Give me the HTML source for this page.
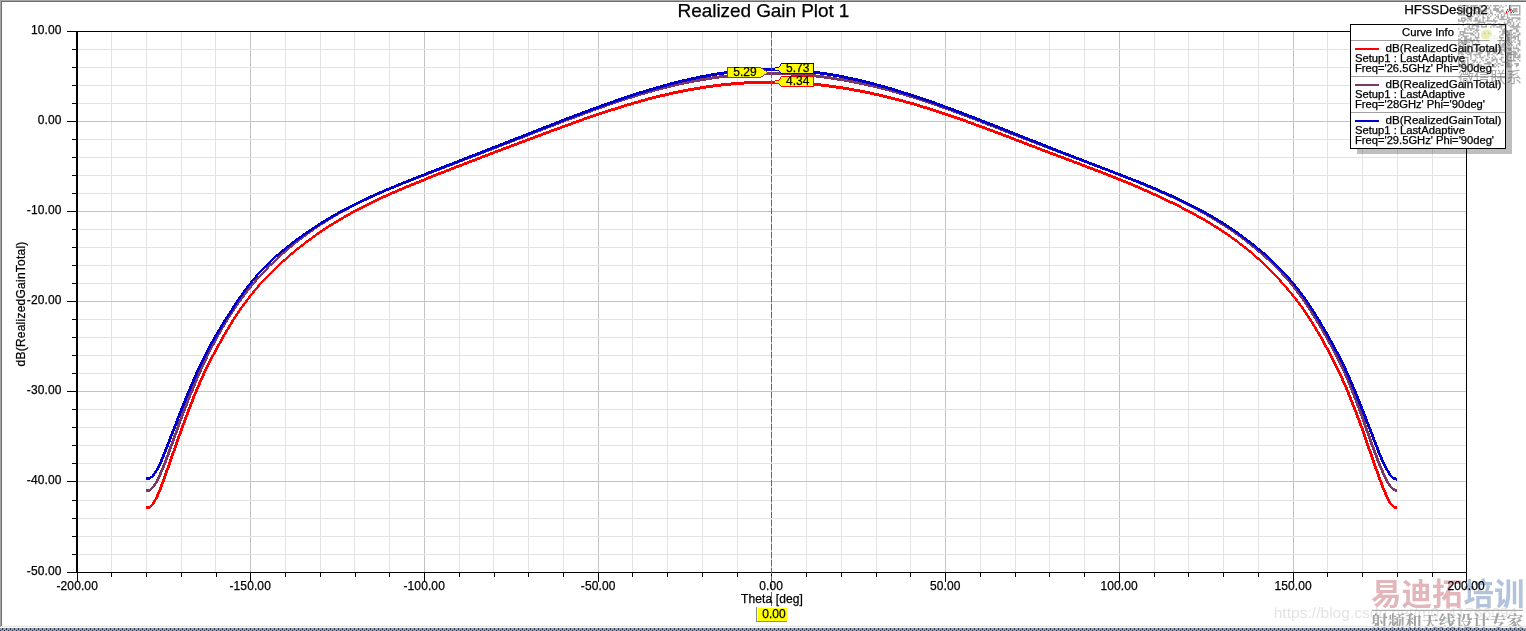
<!DOCTYPE html><html><head><meta charset="utf-8"><title>Realized Gain Plot 1</title>
<style>html,body{margin:0;padding:0;background:#fff;overflow:hidden}svg{display:block;will-change:transform;transform:translateZ(0)}text{font-family:"Liberation Sans",sans-serif;fill:#000;stroke:#000;stroke-width:.25px}</style></head><body>
<svg width="1526" height="631" viewBox="0 0 1526 631">
<defs><pattern id="dots" x="0" y="628" width="4" height="3" patternUnits="userSpaceOnUse"><rect width="4" height="3" fill="#9c9c9c"/><rect x="2" y="0" width="1" height="2" fill="#1f3864"/><rect x="0" y="2" width="1" height="1" fill="#1f3864"/></pattern></defs>
<rect width="1526" height="631" fill="#fff"/>
<g shape-rendering="crispEdges">
<rect x="111" y="32" width="1" height="540" fill="#e3e3e3"/>
<rect x="146" y="32" width="1" height="540" fill="#e3e3e3"/>
<rect x="181" y="32" width="1" height="540" fill="#e3e3e3"/>
<rect x="215" y="32" width="1" height="540" fill="#e3e3e3"/>
<rect x="250" y="32" width="1" height="540" fill="#c3c3c3"/>
<rect x="285" y="32" width="1" height="540" fill="#e3e3e3"/>
<rect x="320" y="32" width="1" height="540" fill="#e3e3e3"/>
<rect x="354" y="32" width="1" height="540" fill="#e3e3e3"/>
<rect x="389" y="32" width="1" height="540" fill="#e3e3e3"/>
<rect x="424" y="32" width="1" height="540" fill="#c3c3c3"/>
<rect x="459" y="32" width="1" height="540" fill="#e3e3e3"/>
<rect x="493" y="32" width="1" height="540" fill="#e3e3e3"/>
<rect x="528" y="32" width="1" height="540" fill="#e3e3e3"/>
<rect x="563" y="32" width="1" height="540" fill="#e3e3e3"/>
<rect x="598" y="32" width="1" height="540" fill="#c3c3c3"/>
<rect x="632" y="32" width="1" height="540" fill="#e3e3e3"/>
<rect x="667" y="32" width="1" height="540" fill="#e3e3e3"/>
<rect x="702" y="32" width="1" height="540" fill="#e3e3e3"/>
<rect x="737" y="32" width="1" height="540" fill="#e3e3e3"/>
<rect x="771" y="32" width="1" height="540" fill="#c3c3c3"/>
<rect x="806" y="32" width="1" height="540" fill="#e3e3e3"/>
<rect x="841" y="32" width="1" height="540" fill="#e3e3e3"/>
<rect x="876" y="32" width="1" height="540" fill="#e3e3e3"/>
<rect x="910" y="32" width="1" height="540" fill="#e3e3e3"/>
<rect x="945" y="32" width="1" height="540" fill="#c3c3c3"/>
<rect x="980" y="32" width="1" height="540" fill="#e3e3e3"/>
<rect x="1015" y="32" width="1" height="540" fill="#e3e3e3"/>
<rect x="1049" y="32" width="1" height="540" fill="#e3e3e3"/>
<rect x="1084" y="32" width="1" height="540" fill="#e3e3e3"/>
<rect x="1119" y="32" width="1" height="540" fill="#c3c3c3"/>
<rect x="1154" y="32" width="1" height="540" fill="#e3e3e3"/>
<rect x="1188" y="32" width="1" height="540" fill="#e3e3e3"/>
<rect x="1223" y="32" width="1" height="540" fill="#e3e3e3"/>
<rect x="1258" y="32" width="1" height="540" fill="#e3e3e3"/>
<rect x="1293" y="32" width="1" height="540" fill="#c3c3c3"/>
<rect x="1327" y="32" width="1" height="540" fill="#e3e3e3"/>
<rect x="1362" y="32" width="1" height="540" fill="#e3e3e3"/>
<rect x="1397" y="32" width="1" height="540" fill="#e3e3e3"/>
<rect x="1432" y="32" width="1" height="540" fill="#e3e3e3"/>
<rect x="78" y="49" width="1388" height="1" fill="#e3e3e3"/>
<rect x="78" y="67" width="1388" height="1" fill="#e3e3e3"/>
<rect x="78" y="85" width="1388" height="1" fill="#e3e3e3"/>
<rect x="78" y="103" width="1388" height="1" fill="#e3e3e3"/>
<rect x="78" y="121" width="1388" height="1" fill="#c3c3c3"/>
<rect x="78" y="139" width="1388" height="1" fill="#e3e3e3"/>
<rect x="78" y="157" width="1388" height="1" fill="#e3e3e3"/>
<rect x="78" y="175" width="1388" height="1" fill="#e3e3e3"/>
<rect x="78" y="193" width="1388" height="1" fill="#e3e3e3"/>
<rect x="78" y="211" width="1388" height="1" fill="#c3c3c3"/>
<rect x="78" y="229" width="1388" height="1" fill="#e3e3e3"/>
<rect x="78" y="247" width="1388" height="1" fill="#e3e3e3"/>
<rect x="78" y="265" width="1388" height="1" fill="#e3e3e3"/>
<rect x="78" y="283" width="1388" height="1" fill="#e3e3e3"/>
<rect x="78" y="301" width="1388" height="1" fill="#c3c3c3"/>
<rect x="78" y="319" width="1388" height="1" fill="#e3e3e3"/>
<rect x="78" y="337" width="1388" height="1" fill="#e3e3e3"/>
<rect x="78" y="355" width="1388" height="1" fill="#e3e3e3"/>
<rect x="78" y="373" width="1388" height="1" fill="#e3e3e3"/>
<rect x="78" y="391" width="1388" height="1" fill="#c3c3c3"/>
<rect x="78" y="409" width="1388" height="1" fill="#e3e3e3"/>
<rect x="78" y="427" width="1388" height="1" fill="#e3e3e3"/>
<rect x="78" y="445" width="1388" height="1" fill="#e3e3e3"/>
<rect x="78" y="463" width="1388" height="1" fill="#e3e3e3"/>
<rect x="78" y="481" width="1388" height="1" fill="#c3c3c3"/>
<rect x="78" y="500" width="1388" height="1" fill="#e3e3e3"/>
<rect x="78" y="518" width="1388" height="1" fill="#e3e3e3"/>
<rect x="78" y="536" width="1388" height="1" fill="#e3e3e3"/>
<rect x="78" y="554" width="1388" height="1" fill="#e3e3e3"/>
</g>
<polygon points="146.1,506.4 149.6,506.0 151.5,503.9 155.0,497.8 158.5,489.8 162.0,480.6 165.4,470.8 168.9,460.9 172.4,451.0 175.9,441.1 179.3,431.4 182.8,421.8 186.3,412.5 189.8,403.4 193.2,394.7 196.7,386.4 200.2,378.4 203.7,371.0 207.1,363.9 210.6,357.2 214.1,350.6 217.6,344.2 221.0,338.0 224.5,332.0 228.0,326.1 231.5,320.5 234.9,315.2 238.4,310.0 241.9,305.1 245.4,300.4 248.8,295.9 252.3,291.6 255.8,287.4 259.3,283.5 262.7,279.7 266.2,276.0 271.2,271.0 274.7,267.6 278.1,264.3 281.6,261.1 285.1,258.0 288.6,254.9 292.0,252.0 295.5,249.1 299.0,246.3 302.5,243.6 305.9,240.9 309.4,238.3 312.9,235.8 316.3,233.3 319.8,230.9 323.3,228.5 326.8,226.2 330.2,224.0 333.7,221.8 337.2,219.7 340.7,217.6 344.1,215.6 347.6,213.6 351.1,211.7 354.6,209.8 358.0,207.9 361.5,206.1 365.0,204.3 368.5,202.6 371.9,200.9 375.4,199.2 378.9,197.6 382.4,196.0 385.8,194.4 389.3,192.8 392.8,191.3 396.3,189.8 399.7,188.3 403.2,186.8 406.7,185.4 410.2,183.9 413.6,182.5 417.1,181.1 420.6,179.7 424.1,178.3 427.5,176.9 431.0,175.5 434.5,174.1 438.0,172.7 441.4,171.4 444.9,170.0 448.4,168.6 451.9,167.3 455.3,165.9 458.8,164.6 462.3,163.2 465.7,161.9 469.2,160.5 472.7,159.2 476.2,157.9 479.6,156.5 483.1,155.2 486.6,153.9 490.1,152.5 493.5,151.2 497.0,149.9 500.5,148.6 504.0,147.3 507.4,146.0 510.9,144.7 514.4,143.4 517.9,142.0 521.3,140.7 524.8,139.4 528.3,138.1 531.8,136.8 535.2,135.5 538.7,134.2 542.2,132.9 545.7,131.6 549.1,130.3 552.6,129.0 556.1,127.8 559.6,126.5 563.0,125.2 566.5,124.0 570.0,122.7 573.5,121.4 576.9,120.2 580.4,119.0 583.9,117.7 587.4,116.5 590.8,115.3 594.3,114.1 597.8,113.0 601.3,111.8 604.7,110.6 608.2,109.5 611.7,108.4 615.2,107.3 618.6,106.2 622.1,105.1 625.6,104.0 629.0,103.0 632.5,102.0 636.0,101.0 639.5,100.0 642.9,99.0 646.4,98.1 649.9,97.1 653.4,96.2 656.8,95.3 660.3,94.5 663.8,93.7 667.3,92.8 670.7,92.1 674.2,91.3 677.7,90.6 681.2,89.9 684.6,89.2 688.1,88.5 691.6,87.9 695.1,87.3 698.5,86.7 702.0,86.1 705.5,85.6 709.0,85.1 712.4,84.6 715.9,84.2 719.4,83.7 722.9,83.3 726.3,83.0 729.8,82.6 733.3,82.3 736.8,82.0 740.2,81.8 743.7,81.5 747.2,81.3 750.7,81.1 754.1,81.0 757.6,80.9 761.1,80.8 764.6,80.7 768.0,80.7 771.5,80.6 775.0,80.7 778.4,80.7 781.9,80.8 785.4,80.9 788.9,81.0 792.3,81.2 795.8,81.4 799.3,81.6 802.8,81.8 806.2,82.1 809.7,82.4 813.2,82.7 816.7,83.1 820.1,83.4 823.6,83.8 827.1,84.3 830.6,84.7 834.0,85.2 837.5,85.7 841.0,86.2 844.5,86.8 847.9,87.3 851.4,87.9 854.9,88.6 858.4,89.2 861.8,89.9 865.3,90.6 868.8,91.3 872.3,92.0 875.7,92.8 879.2,93.6 882.7,94.4 886.2,95.2 889.6,96.1 893.1,96.9 896.6,97.8 900.1,98.8 903.5,99.7 907.0,100.7 910.5,101.6 914.0,102.6 917.4,103.7 920.9,104.7 924.4,105.8 927.9,106.8 931.3,107.9 934.8,109.0 938.3,110.2 941.7,111.3 945.2,112.5 948.7,113.7 952.2,114.8 955.6,116.0 959.1,117.3 962.6,118.5 966.1,119.7 969.5,121.0 973.0,122.2 976.5,123.5 980.0,124.8 983.4,126.0 986.9,127.3 990.4,128.6 993.9,129.9 997.3,131.3 1000.8,132.6 1004.3,133.9 1007.8,135.2 1011.2,136.5 1014.7,137.9 1018.2,139.2 1021.7,140.5 1025.1,141.9 1028.6,143.2 1032.1,144.5 1035.6,145.9 1039.0,147.2 1042.5,148.5 1046.0,149.8 1049.5,151.2 1052.9,152.5 1056.4,153.8 1059.9,155.1 1063.4,156.4 1066.8,157.7 1070.3,159.0 1073.8,160.3 1077.3,161.6 1080.7,162.9 1084.2,164.3 1087.7,165.6 1091.1,166.9 1094.6,168.2 1098.1,169.6 1101.6,170.9 1105.0,172.3 1108.5,173.6 1112.0,175.0 1115.5,176.4 1118.9,177.8 1122.4,179.2 1125.9,180.6 1129.4,182.0 1132.8,183.5 1136.3,185.0 1139.8,186.4 1143.3,188.0 1146.7,189.5 1150.2,191.0 1153.7,192.6 1157.2,194.2 1160.6,195.8 1164.1,197.4 1167.6,199.1 1171.1,200.8 1174.5,202.5 1178.0,204.2 1181.5,206.0 1185.0,207.8 1188.4,209.6 1191.9,211.4 1195.4,213.3 1198.9,215.3 1202.3,217.2 1205.8,219.2 1209.3,221.3 1212.8,223.4 1216.2,225.6 1219.7,227.8 1223.2,230.1 1226.7,232.4 1230.1,234.8 1233.6,237.3 1237.1,239.9 1240.5,242.5 1244.0,245.2 1247.5,248.0 1251.0,250.9 1254.4,253.9 1257.9,256.9 1261.4,260.1 1264.9,263.4 1268.3,266.8 1273.3,271.7 1276.8,275.3 1280.3,279.0 1283.7,282.9 1287.2,286.8 1290.7,290.9 1294.2,295.1 1297.6,299.6 1301.1,304.1 1304.6,308.9 1308.1,314.0 1311.5,319.2 1315.0,324.7 1318.5,330.5 1322.0,336.5 1325.4,342.7 1328.9,349.1 1332.4,355.6 1335.9,362.4 1339.3,369.4 1342.8,376.8 1346.3,384.6 1349.8,392.8 1353.2,401.4 1356.7,410.3 1360.2,419.4 1363.7,428.9 1367.1,438.7 1370.6,448.8 1374.1,458.9 1377.6,468.9 1381.0,478.5 1384.5,487.6 1388.0,495.8 1391.5,502.5 1393.4,505.3 1396.9,506.6 1396.9,509.6 1393.4,508.3 1388.5,502.5 1385.0,495.8 1381.5,487.6 1378.0,478.5 1374.6,468.9 1371.1,458.9 1367.6,448.8 1364.1,438.7 1360.7,428.9 1357.2,419.4 1353.7,410.3 1350.2,401.4 1346.8,392.8 1343.3,384.6 1339.8,376.8 1336.3,369.4 1332.9,362.4 1329.4,355.6 1325.9,349.1 1322.4,342.7 1319.0,336.5 1315.5,330.5 1312.0,324.7 1308.5,319.2 1305.1,314.0 1301.6,308.9 1298.1,304.1 1294.6,299.6 1291.2,295.1 1287.7,290.9 1284.2,286.8 1280.7,282.9 1277.3,279.0 1273.8,275.3 1270.3,271.7 1268.3,269.8 1264.9,266.4 1261.4,263.1 1257.9,259.9 1254.4,256.9 1251.0,253.9 1247.5,251.0 1244.0,248.2 1240.5,245.5 1237.1,242.9 1233.6,240.3 1230.1,237.8 1226.7,235.4 1223.2,233.1 1219.7,230.8 1216.2,228.6 1212.8,226.4 1209.3,224.3 1205.8,222.2 1202.3,220.2 1198.9,218.3 1195.4,216.3 1191.9,214.4 1188.4,212.6 1185.0,210.8 1181.5,209.0 1178.0,207.2 1174.5,205.5 1171.1,203.8 1167.6,202.1 1164.1,200.4 1160.6,198.8 1157.2,197.2 1153.7,195.6 1150.2,194.0 1146.7,192.5 1143.3,191.0 1139.8,189.4 1136.3,188.0 1132.8,186.5 1129.4,185.0 1125.9,183.6 1122.4,182.2 1118.9,180.8 1115.5,179.4 1112.0,178.0 1108.5,176.6 1105.0,175.3 1101.6,173.9 1098.1,172.6 1094.6,171.2 1091.1,169.9 1087.7,168.6 1084.2,167.3 1080.7,165.9 1077.3,164.6 1073.8,163.3 1070.3,162.0 1066.8,160.7 1063.4,159.4 1059.9,158.1 1056.4,156.8 1052.9,155.5 1049.5,154.2 1046.0,152.8 1042.5,151.5 1039.0,150.2 1035.6,148.9 1032.1,147.5 1028.6,146.2 1025.1,144.9 1021.7,143.5 1018.2,142.2 1014.7,140.9 1011.2,139.5 1007.8,138.2 1004.3,136.9 1000.8,135.6 997.3,134.3 993.9,132.9 990.4,131.6 986.9,130.3 983.4,129.0 980.0,127.8 976.5,126.5 973.0,125.2 969.5,124.0 966.1,122.7 962.6,121.5 959.1,120.3 955.6,119.0 952.2,117.8 948.7,116.7 945.2,115.5 941.7,114.3 938.3,113.2 934.8,112.0 931.3,110.9 927.9,109.8 924.4,108.8 920.9,107.7 917.4,106.7 914.0,105.6 910.5,104.6 907.0,103.7 903.5,102.7 900.1,101.8 896.6,100.8 893.1,99.9 889.6,99.1 886.2,98.2 882.7,97.4 879.2,96.6 875.7,95.8 872.3,95.0 868.8,94.3 865.3,93.6 861.8,92.9 858.4,92.2 854.9,91.6 851.4,90.9 847.9,90.3 844.5,89.8 841.0,89.2 837.5,88.7 834.0,88.2 830.6,87.7 827.1,87.3 823.6,86.8 820.1,86.4 816.7,86.1 813.2,85.7 809.7,85.4 806.2,85.1 802.8,84.8 799.3,84.6 795.8,84.4 792.3,84.2 788.9,84.0 785.4,83.9 781.9,83.8 778.4,83.7 775.0,83.7 771.5,83.6 768.0,83.7 764.6,83.7 761.1,83.8 757.6,83.9 754.1,84.0 750.7,84.1 747.2,84.3 743.7,84.5 740.2,84.8 736.8,85.0 733.3,85.3 729.8,85.6 726.3,86.0 722.9,86.3 719.4,86.7 715.9,87.2 712.4,87.6 709.0,88.1 705.5,88.6 702.0,89.1 698.5,89.7 695.1,90.3 691.6,90.9 688.1,91.5 684.6,92.2 681.2,92.9 677.7,93.6 674.2,94.3 670.7,95.1 667.3,95.8 663.8,96.7 660.3,97.5 656.8,98.3 653.4,99.2 649.9,100.1 646.4,101.1 642.9,102.0 639.5,103.0 636.0,104.0 632.5,105.0 629.0,106.0 625.6,107.0 622.1,108.1 618.6,109.2 615.2,110.3 611.7,111.4 608.2,112.5 604.7,113.6 601.3,114.8 597.8,116.0 594.3,117.1 590.8,118.3 587.4,119.5 583.9,120.7 580.4,122.0 576.9,123.2 573.5,124.4 570.0,125.7 566.5,127.0 563.0,128.2 559.6,129.5 556.1,130.8 552.6,132.0 549.1,133.3 545.7,134.6 542.2,135.9 538.7,137.2 535.2,138.5 531.8,139.8 528.3,141.1 524.8,142.4 521.3,143.7 517.9,145.0 514.4,146.4 510.9,147.7 507.4,149.0 504.0,150.3 500.5,151.6 497.0,152.9 493.5,154.2 490.1,155.5 486.6,156.9 483.1,158.2 479.6,159.5 476.2,160.9 472.7,162.2 469.2,163.5 465.7,164.9 462.3,166.2 458.8,167.6 455.3,168.9 451.9,170.3 448.4,171.6 444.9,173.0 441.4,174.4 438.0,175.7 434.5,177.1 431.0,178.5 427.5,179.9 424.1,181.3 420.6,182.7 417.1,184.1 413.6,185.5 410.2,186.9 406.7,188.4 403.2,189.8 399.7,191.3 396.3,192.8 392.8,194.3 389.3,195.8 385.8,197.4 382.4,199.0 378.9,200.6 375.4,202.2 371.9,203.9 368.5,205.6 365.0,207.3 361.5,209.1 358.0,210.9 354.6,212.8 351.1,214.7 347.6,216.6 344.1,218.6 340.7,220.6 337.2,222.7 333.7,224.8 330.2,227.0 326.8,229.2 323.3,231.5 319.8,233.9 316.3,236.3 312.9,238.8 309.4,241.3 305.9,243.9 302.5,246.6 299.0,249.3 295.5,252.1 292.0,255.0 288.6,257.9 285.1,261.0 281.6,264.1 278.1,267.3 274.7,270.6 271.2,274.0 269.2,276.0 265.7,279.7 262.3,283.5 258.8,287.4 255.3,291.6 251.8,295.9 248.4,300.4 244.9,305.1 241.4,310.0 237.9,315.2 234.5,320.5 231.0,326.1 227.5,332.0 224.0,338.0 220.6,344.2 217.1,350.6 213.6,357.2 210.1,363.9 206.7,371.0 203.2,378.4 199.7,386.4 196.2,394.7 192.8,403.4 189.3,412.5 185.8,421.8 182.3,431.4 178.9,441.1 175.4,451.0 171.9,460.9 168.4,470.8 165.0,480.6 161.5,489.8 158.0,497.8 154.5,503.9 149.6,509.0 146.1,509.4" fill="#ff0000" shape-rendering="crispEdges"/>
<polygon points="146.1,489.2 149.6,488.7 151.5,487.1 155.0,481.8 158.5,474.8 162.0,466.6 165.4,457.5 168.9,448.1 172.4,438.4 175.9,428.7 179.3,419.2 182.8,410.0 186.3,401.0 189.8,392.3 193.2,383.8 196.7,375.7 200.2,367.8 203.7,360.3 207.1,353.1 210.6,346.2 214.1,339.7 217.6,333.4 221.0,327.4 224.5,321.6 228.0,316.1 231.5,310.8 234.9,305.7 238.4,300.8 241.9,296.1 245.4,291.6 248.8,287.2 252.3,283.0 255.8,279.0 259.3,275.1 262.7,271.4 266.2,267.8 271.2,262.8 274.7,259.5 278.1,256.2 281.6,253.0 285.1,250.0 288.6,247.0 292.0,244.1 295.5,241.3 299.0,238.5 302.5,235.9 305.9,233.3 309.4,230.8 312.9,228.3 316.3,225.9 319.8,223.6 323.3,221.3 326.8,219.1 330.2,217.0 333.7,214.9 337.2,212.8 340.7,210.8 344.1,208.9 347.6,207.0 351.1,205.2 354.6,203.4 358.0,201.6 361.5,199.9 365.0,198.2 368.5,196.6 371.9,195.0 375.4,193.4 378.9,191.8 382.4,190.3 385.8,188.8 389.3,187.3 392.8,185.9 396.3,184.5 399.7,183.0 403.2,181.6 406.7,180.3 410.2,178.9 413.6,177.5 417.1,176.2 420.6,174.8 424.1,173.5 427.5,172.1 431.0,170.8 434.5,169.4 438.0,168.1 441.4,166.8 444.9,165.4 448.4,164.1 451.9,162.8 455.3,161.4 458.8,160.1 462.3,158.7 465.7,157.4 469.2,156.1 472.7,154.7 476.2,153.4 479.6,152.1 483.1,150.7 486.6,149.4 490.1,148.1 493.5,146.7 497.0,145.4 500.5,144.1 504.0,142.7 507.4,141.4 510.9,140.0 514.4,138.7 517.9,137.3 521.3,136.0 524.8,134.7 528.3,133.3 531.8,132.0 535.2,130.6 538.7,129.3 542.2,127.9 545.7,126.6 549.1,125.2 552.6,123.9 556.1,122.5 559.6,121.2 563.0,119.9 566.5,118.5 570.0,117.2 573.5,115.9 576.9,114.6 580.4,113.3 583.9,112.0 587.4,110.7 590.8,109.4 594.3,108.2 597.8,106.9 601.3,105.7 604.7,104.5 608.2,103.2 611.7,102.0 615.2,100.9 618.6,99.7 622.1,98.5 625.6,97.4 629.0,96.3 632.5,95.2 636.0,94.1 639.5,93.1 642.9,92.0 646.4,91.0 649.9,90.0 653.4,89.0 656.8,88.1 660.3,87.2 663.8,86.3 667.3,85.4 670.7,84.5 674.2,83.7 677.7,82.9 681.2,82.1 684.6,81.4 688.1,80.7 691.6,80.0 695.1,79.3 698.5,78.7 702.0,78.1 705.5,77.5 709.0,76.9 712.4,76.4 715.9,75.9 719.4,75.5 722.9,75.0 726.3,74.6 729.8,74.2 733.3,73.9 736.8,73.6 740.2,73.3 743.7,73.0 747.2,72.8 750.7,72.6 754.1,72.4 757.6,72.3 761.1,72.1 764.6,72.1 768.0,72.0 771.5,72.0 775.0,72.0 778.4,72.1 781.9,72.2 785.4,72.3 788.9,72.4 792.3,72.6 795.8,72.8 799.3,73.0 802.8,73.3 806.2,73.6 809.7,73.9 813.2,74.2 816.7,74.6 820.1,75.0 823.6,75.4 827.1,75.9 830.6,76.4 834.0,76.9 837.5,77.5 841.0,78.0 844.5,78.6 847.9,79.3 851.4,79.9 854.9,80.6 858.4,81.3 861.8,82.0 865.3,82.8 868.8,83.6 872.3,84.4 875.7,85.2 879.2,86.1 882.7,86.9 886.2,87.8 889.6,88.8 893.1,89.7 896.6,90.7 900.1,91.7 903.5,92.7 907.0,93.8 910.5,94.8 914.0,95.9 917.4,97.0 920.9,98.1 924.4,99.3 927.9,100.5 931.3,101.6 934.8,102.8 938.3,104.1 941.7,105.3 945.2,106.5 948.7,107.8 952.2,109.1 955.6,110.4 959.1,111.7 962.6,113.0 966.1,114.3 969.5,115.6 973.0,116.9 976.5,118.3 980.0,119.6 983.4,121.0 986.9,122.3 990.4,123.7 993.9,125.0 997.3,126.4 1000.8,127.7 1004.3,129.1 1007.8,130.4 1011.2,131.8 1014.7,133.1 1018.2,134.5 1021.7,135.8 1025.1,137.2 1028.6,138.5 1032.1,139.8 1035.6,141.2 1039.0,142.5 1042.5,143.8 1046.0,145.2 1049.5,146.5 1052.9,147.8 1056.4,149.1 1059.9,150.4 1063.4,151.7 1066.8,153.1 1070.3,154.4 1073.8,155.7 1077.3,157.0 1080.7,158.3 1084.2,159.6 1087.7,160.9 1091.1,162.2 1094.6,163.6 1098.1,164.9 1101.6,166.2 1105.0,167.5 1108.5,168.9 1112.0,170.2 1115.5,171.6 1118.9,172.9 1122.4,174.3 1125.9,175.7 1129.4,177.0 1132.8,178.4 1136.3,179.8 1139.8,181.3 1143.3,182.7 1146.7,184.2 1150.2,185.6 1153.7,187.1 1157.2,188.6 1160.6,190.1 1164.1,191.7 1167.6,193.3 1171.1,194.8 1174.5,196.5 1178.0,198.1 1181.5,199.8 1185.0,201.5 1188.4,203.3 1191.9,205.1 1195.4,206.9 1198.9,208.8 1202.3,210.7 1205.8,212.6 1209.3,214.6 1212.8,216.7 1216.2,218.8 1219.7,221.0 1223.2,223.2 1226.7,225.5 1230.1,227.8 1233.6,230.2 1237.1,232.7 1240.5,235.2 1244.0,237.8 1247.5,240.5 1251.0,243.3 1254.4,246.1 1257.9,249.0 1261.4,252.0 1264.9,255.0 1268.3,258.2 1271.8,261.5 1276.8,266.4 1280.3,269.9 1283.7,273.6 1287.2,277.5 1290.7,281.5 1294.2,285.7 1297.6,290.1 1301.1,294.7 1304.6,299.5 1308.1,304.6 1311.5,309.9 1315.0,315.3 1318.5,321.0 1322.0,326.8 1325.4,332.8 1328.9,338.9 1332.4,345.2 1335.9,351.6 1339.3,358.4 1342.8,365.5 1346.3,373.0 1349.8,381.0 1353.2,389.4 1356.7,398.3 1360.2,407.4 1363.7,416.9 1367.1,426.6 1370.6,436.5 1374.1,446.2 1377.6,455.6 1381.0,464.5 1384.5,472.8 1388.0,480.1 1391.5,485.9 1393.4,488.1 1396.9,489.3 1396.9,492.3 1393.4,491.1 1388.5,485.9 1385.0,480.1 1381.5,472.8 1378.0,464.5 1374.6,455.6 1371.1,446.2 1367.6,436.5 1364.1,426.6 1360.7,416.9 1357.2,407.4 1353.7,398.3 1350.2,389.4 1346.8,381.0 1343.3,373.0 1339.8,365.5 1336.3,358.4 1332.9,351.6 1329.4,345.2 1325.9,338.9 1322.4,332.8 1319.0,326.8 1315.5,321.0 1312.0,315.3 1308.5,309.9 1305.1,304.6 1301.6,299.5 1298.1,294.7 1294.6,290.1 1291.2,285.7 1287.7,281.5 1284.2,277.5 1280.7,273.6 1277.3,269.9 1273.8,266.4 1271.8,264.5 1268.3,261.2 1264.9,258.0 1261.4,255.0 1257.9,252.0 1254.4,249.1 1251.0,246.3 1247.5,243.5 1244.0,240.8 1240.5,238.2 1237.1,235.7 1233.6,233.2 1230.1,230.8 1226.7,228.5 1223.2,226.2 1219.7,224.0 1216.2,221.8 1212.8,219.7 1209.3,217.6 1205.8,215.6 1202.3,213.7 1198.9,211.8 1195.4,209.9 1191.9,208.1 1188.4,206.3 1185.0,204.5 1181.5,202.8 1178.0,201.1 1174.5,199.5 1171.1,197.8 1167.6,196.3 1164.1,194.7 1160.6,193.1 1157.2,191.6 1153.7,190.1 1150.2,188.6 1146.7,187.2 1143.3,185.7 1139.8,184.3 1136.3,182.8 1132.8,181.4 1129.4,180.0 1125.9,178.7 1122.4,177.3 1118.9,175.9 1115.5,174.6 1112.0,173.2 1108.5,171.9 1105.0,170.5 1101.6,169.2 1098.1,167.9 1094.6,166.6 1091.1,165.2 1087.7,163.9 1084.2,162.6 1080.7,161.3 1077.3,160.0 1073.8,158.7 1070.3,157.4 1066.8,156.1 1063.4,154.7 1059.9,153.4 1056.4,152.1 1052.9,150.8 1049.5,149.5 1046.0,148.2 1042.5,146.8 1039.0,145.5 1035.6,144.2 1032.1,142.8 1028.6,141.5 1025.1,140.2 1021.7,138.8 1018.2,137.5 1014.7,136.1 1011.2,134.8 1007.8,133.4 1004.3,132.1 1000.8,130.7 997.3,129.4 993.9,128.0 990.4,126.7 986.9,125.3 983.4,124.0 980.0,122.6 976.5,121.3 973.0,119.9 969.5,118.6 966.1,117.3 962.6,116.0 959.1,114.7 955.6,113.4 952.2,112.1 948.7,110.8 945.2,109.5 941.7,108.3 938.3,107.1 934.8,105.8 931.3,104.6 927.9,103.5 924.4,102.3 920.9,101.1 917.4,100.0 914.0,98.9 910.5,97.8 907.0,96.8 903.5,95.7 900.1,94.7 896.6,93.7 893.1,92.7 889.6,91.8 886.2,90.8 882.7,89.9 879.2,89.1 875.7,88.2 872.3,87.4 868.8,86.6 865.3,85.8 861.8,85.0 858.4,84.3 854.9,83.6 851.4,82.9 847.9,82.3 844.5,81.6 841.0,81.0 837.5,80.5 834.0,79.9 830.6,79.4 827.1,78.9 823.6,78.4 820.1,78.0 816.7,77.6 813.2,77.2 809.7,76.9 806.2,76.6 802.8,76.3 799.3,76.0 795.8,75.8 792.3,75.6 788.9,75.4 785.4,75.3 781.9,75.2 778.4,75.1 775.0,75.0 771.5,75.0 768.0,75.0 764.6,75.1 761.1,75.1 757.6,75.3 754.1,75.4 750.7,75.6 747.2,75.8 743.7,76.0 740.2,76.3 736.8,76.6 733.3,76.9 729.8,77.2 726.3,77.6 722.9,78.0 719.4,78.5 715.9,78.9 712.4,79.4 709.0,79.9 705.5,80.5 702.0,81.1 698.5,81.7 695.1,82.3 691.6,83.0 688.1,83.7 684.6,84.4 681.2,85.1 677.7,85.9 674.2,86.7 670.7,87.5 667.3,88.4 663.8,89.3 660.3,90.2 656.8,91.1 653.4,92.0 649.9,93.0 646.4,94.0 642.9,95.0 639.5,96.1 636.0,97.1 632.5,98.2 629.0,99.3 625.6,100.4 622.1,101.5 618.6,102.7 615.2,103.9 611.7,105.0 608.2,106.2 604.7,107.5 601.3,108.7 597.8,109.9 594.3,111.2 590.8,112.4 587.4,113.7 583.9,115.0 580.4,116.3 576.9,117.6 573.5,118.9 570.0,120.2 566.5,121.5 563.0,122.9 559.6,124.2 556.1,125.5 552.6,126.9 549.1,128.2 545.7,129.6 542.2,130.9 538.7,132.3 535.2,133.6 531.8,135.0 528.3,136.3 524.8,137.7 521.3,139.0 517.9,140.3 514.4,141.7 510.9,143.0 507.4,144.4 504.0,145.7 500.5,147.1 497.0,148.4 493.5,149.7 490.1,151.1 486.6,152.4 483.1,153.7 479.6,155.1 476.2,156.4 472.7,157.7 469.2,159.1 465.7,160.4 462.3,161.7 458.8,163.1 455.3,164.4 451.9,165.8 448.4,167.1 444.9,168.4 441.4,169.8 438.0,171.1 434.5,172.4 431.0,173.8 427.5,175.1 424.1,176.5 420.6,177.8 417.1,179.2 413.6,180.5 410.2,181.9 406.7,183.3 403.2,184.6 399.7,186.0 396.3,187.5 392.8,188.9 389.3,190.3 385.8,191.8 382.4,193.3 378.9,194.8 375.4,196.4 371.9,198.0 368.5,199.6 365.0,201.2 361.5,202.9 358.0,204.6 354.6,206.4 351.1,208.2 347.6,210.0 344.1,211.9 340.7,213.8 337.2,215.8 333.7,217.9 330.2,220.0 326.8,222.1 323.3,224.3 319.8,226.6 316.3,228.9 312.9,231.3 309.4,233.8 305.9,236.3 302.5,238.9 299.0,241.5 295.5,244.3 292.0,247.1 288.6,250.0 285.1,253.0 281.6,256.0 278.1,259.2 274.7,262.5 271.2,265.8 269.2,267.8 265.7,271.4 262.3,275.1 258.8,279.0 255.3,283.0 251.8,287.2 248.4,291.6 244.9,296.1 241.4,300.8 237.9,305.7 234.5,310.8 231.0,316.1 227.5,321.6 224.0,327.4 220.6,333.4 217.1,339.7 213.6,346.2 210.1,353.1 206.7,360.3 203.2,367.8 199.7,375.7 196.2,383.8 192.8,392.3 189.3,401.0 185.8,410.0 182.3,419.2 178.9,428.7 175.4,438.4 171.9,448.1 168.4,457.5 165.0,466.6 161.5,474.8 158.0,481.8 154.5,487.1 149.6,491.7 146.1,492.2" fill="#7b3767" shape-rendering="crispEdges"/>
<polygon points="146.1,477.5 149.6,477.2 151.5,475.7 155.0,470.6 158.5,463.8 162.0,455.8 165.4,447.1 168.9,438.1 172.4,429.0 175.9,420.0 179.3,411.1 182.8,402.4 186.3,393.9 189.8,385.6 193.2,377.6 196.7,369.8 200.2,362.4 203.7,355.3 207.1,348.6 210.6,342.2 214.1,336.1 217.6,330.2 221.0,324.4 224.5,318.9 228.0,313.4 231.5,308.0 234.9,302.7 238.4,297.6 241.9,292.6 245.4,287.9 248.8,283.4 252.3,279.1 255.8,275.0 259.3,271.2 262.7,267.5 267.7,262.6 271.2,259.2 274.7,256.1 278.1,253.0 281.6,250.1 285.1,247.3 288.6,244.5 292.0,241.8 295.5,239.2 299.0,236.6 302.5,234.1 305.9,231.7 309.4,229.3 312.9,227.0 316.3,224.7 319.8,222.5 323.3,220.3 326.8,218.2 330.2,216.2 333.7,214.2 337.2,212.2 340.7,210.3 344.1,208.4 347.6,206.6 351.1,204.8 354.6,203.1 358.0,201.4 361.5,199.7 365.0,198.0 368.5,196.4 371.9,194.8 375.4,193.3 378.9,191.7 382.4,190.2 385.8,188.7 389.3,187.3 392.8,185.8 396.3,184.4 399.7,182.9 403.2,181.5 406.7,180.1 410.2,178.8 413.6,177.4 417.1,176.0 420.6,174.6 424.1,173.3 427.5,171.9 431.0,170.5 434.5,169.2 438.0,167.8 441.4,166.5 444.9,165.1 448.4,163.7 451.9,162.4 455.3,161.0 458.8,159.7 462.3,158.3 465.7,156.9 469.2,155.6 472.7,154.2 476.2,152.9 479.6,151.5 483.1,150.2 486.6,148.8 490.1,147.4 493.5,146.1 497.0,144.7 500.5,143.4 504.0,142.0 507.4,140.6 510.9,139.3 514.4,137.9 517.9,136.6 521.3,135.2 524.8,133.8 528.3,132.5 531.8,131.1 535.2,129.7 538.7,128.4 542.2,127.0 545.7,125.6 549.1,124.3 552.6,122.9 556.1,121.6 559.6,120.2 563.0,118.9 566.5,117.5 570.0,116.2 573.5,114.9 576.9,113.5 580.4,112.2 583.9,110.9 587.4,109.6 590.8,108.3 594.3,107.0 597.8,105.8 601.3,104.5 604.7,103.3 608.2,102.0 611.7,100.8 615.2,99.6 618.6,98.4 622.1,97.2 625.6,96.0 629.0,94.9 632.5,93.7 636.0,92.6 639.5,91.5 642.9,90.4 646.4,89.4 649.9,88.3 653.4,87.3 656.8,86.3 660.3,85.3 663.8,84.3 667.3,83.4 670.7,82.4 674.2,81.5 677.7,80.7 681.2,79.8 684.6,79.0 688.1,78.2 691.6,77.4 695.1,76.7 698.5,75.9 702.0,75.2 705.5,74.6 709.0,73.9 712.4,73.3 715.9,72.7 719.4,72.2 722.9,71.6 726.3,71.2 729.8,70.7 733.3,70.3 736.8,69.9 740.2,69.5 743.7,69.2 747.2,68.9 750.7,68.7 754.1,68.5 757.6,68.3 761.1,68.1 764.6,68.0 768.0,68.0 771.5,67.9 775.0,67.9 778.4,68.0 781.9,68.1 785.4,68.2 788.9,68.4 792.3,68.6 795.8,68.8 799.3,69.1 802.8,69.4 806.2,69.8 809.7,70.1 813.2,70.5 816.7,71.0 820.1,71.5 823.6,72.0 827.1,72.5 830.6,73.1 834.0,73.7 837.5,74.3 841.0,75.0 844.5,75.7 847.9,76.4 851.4,77.1 854.9,77.9 858.4,78.7 861.8,79.5 865.3,80.4 868.8,81.2 872.3,82.1 875.7,83.0 879.2,84.0 882.7,84.9 886.2,85.9 889.6,86.9 893.1,88.0 896.6,89.0 900.1,90.1 903.5,91.2 907.0,92.3 910.5,93.4 914.0,94.5 917.4,95.7 920.9,96.8 924.4,98.0 927.9,99.2 931.3,100.4 934.8,101.6 938.3,102.9 941.7,104.1 945.2,105.4 948.7,106.7 952.2,108.0 955.6,109.3 959.1,110.6 962.6,111.9 966.1,113.2 969.5,114.5 973.0,115.9 976.5,117.2 980.0,118.6 983.4,119.9 986.9,121.3 990.4,122.6 993.9,124.0 997.3,125.4 1000.8,126.8 1004.3,128.1 1007.8,129.5 1011.2,130.9 1014.7,132.3 1018.2,133.6 1021.7,135.0 1025.1,136.4 1028.6,137.8 1032.1,139.2 1035.6,140.5 1039.0,141.9 1042.5,143.3 1046.0,144.6 1049.5,146.0 1052.9,147.4 1056.4,148.7 1059.9,150.1 1063.4,151.5 1066.8,152.8 1070.3,154.2 1073.8,155.5 1077.3,156.9 1080.7,158.2 1084.2,159.5 1087.7,160.9 1091.1,162.2 1094.6,163.5 1098.1,164.9 1101.6,166.2 1105.0,167.5 1108.5,168.8 1112.0,170.2 1115.5,171.5 1118.9,172.8 1122.4,174.2 1125.9,175.5 1129.4,176.9 1132.8,178.3 1136.3,179.6 1139.8,181.0 1143.3,182.4 1146.7,183.9 1150.2,185.3 1153.7,186.7 1157.2,188.2 1160.6,189.7 1164.1,191.2 1167.6,192.7 1171.1,194.3 1174.5,195.9 1178.0,197.5 1181.5,199.1 1185.0,200.8 1188.4,202.5 1191.9,204.3 1195.4,206.0 1198.9,207.9 1202.3,209.7 1205.8,211.6 1209.3,213.6 1212.8,215.6 1216.2,217.7 1219.7,219.8 1223.2,221.9 1226.7,224.1 1230.1,226.4 1233.6,228.8 1237.1,231.2 1240.5,233.6 1244.0,236.2 1247.5,238.8 1251.0,241.4 1254.4,244.2 1257.9,247.0 1261.4,249.9 1264.9,252.8 1268.3,255.9 1271.8,259.1 1275.3,262.4 1280.3,267.4 1283.7,270.9 1287.2,274.7 1290.7,278.6 1294.2,282.7 1297.6,287.0 1301.1,291.4 1304.6,296.1 1308.1,301.1 1311.5,306.2 1315.0,311.6 1318.5,317.2 1322.0,322.9 1325.4,328.8 1328.9,334.9 1332.4,341.1 1335.9,347.5 1339.3,354.0 1342.8,360.9 1346.3,368.0 1349.8,375.6 1353.2,383.5 1356.7,391.8 1360.2,400.3 1363.7,409.1 1367.1,417.9 1370.6,426.9 1374.1,436.0 1377.6,445.0 1381.0,453.8 1384.5,462.0 1388.0,469.1 1391.5,474.7 1393.4,476.7 1396.9,477.7 1396.9,480.7 1393.4,479.7 1388.5,474.7 1385.0,469.1 1381.5,462.0 1378.0,453.8 1374.6,445.0 1371.1,436.0 1367.6,426.9 1364.1,417.9 1360.7,409.1 1357.2,400.3 1353.7,391.8 1350.2,383.5 1346.8,375.6 1343.3,368.0 1339.8,360.9 1336.3,354.0 1332.9,347.5 1329.4,341.1 1325.9,334.9 1322.4,328.8 1319.0,322.9 1315.5,317.2 1312.0,311.6 1308.5,306.2 1305.1,301.1 1301.6,296.1 1298.1,291.4 1294.6,287.0 1291.2,282.7 1287.7,278.6 1284.2,274.7 1280.7,270.9 1277.3,267.4 1275.3,265.4 1271.8,262.1 1268.3,258.9 1264.9,255.8 1261.4,252.9 1257.9,250.0 1254.4,247.2 1251.0,244.4 1247.5,241.8 1244.0,239.2 1240.5,236.6 1237.1,234.2 1233.6,231.8 1230.1,229.4 1226.7,227.1 1223.2,224.9 1219.7,222.8 1216.2,220.7 1212.8,218.6 1209.3,216.6 1205.8,214.6 1202.3,212.7 1198.9,210.9 1195.4,209.0 1191.9,207.3 1188.4,205.5 1185.0,203.8 1181.5,202.1 1178.0,200.5 1174.5,198.9 1171.1,197.3 1167.6,195.7 1164.1,194.2 1160.6,192.7 1157.2,191.2 1153.7,189.7 1150.2,188.3 1146.7,186.9 1143.3,185.4 1139.8,184.0 1136.3,182.6 1132.8,181.3 1129.4,179.9 1125.9,178.5 1122.4,177.2 1118.9,175.8 1115.5,174.5 1112.0,173.2 1108.5,171.8 1105.0,170.5 1101.6,169.2 1098.1,167.9 1094.6,166.5 1091.1,165.2 1087.7,163.9 1084.2,162.5 1080.7,161.2 1077.3,159.9 1073.8,158.5 1070.3,157.2 1066.8,155.8 1063.4,154.5 1059.9,153.1 1056.4,151.7 1052.9,150.4 1049.5,149.0 1046.0,147.6 1042.5,146.3 1039.0,144.9 1035.6,143.5 1032.1,142.2 1028.6,140.8 1025.1,139.4 1021.7,138.0 1018.2,136.6 1014.7,135.3 1011.2,133.9 1007.8,132.5 1004.3,131.1 1000.8,129.8 997.3,128.4 993.9,127.0 990.4,125.6 986.9,124.3 983.4,122.9 980.0,121.6 976.5,120.2 973.0,118.9 969.5,117.5 966.1,116.2 962.6,114.9 959.1,113.6 955.6,112.3 952.2,111.0 948.7,109.7 945.2,108.4 941.7,107.1 938.3,105.9 934.8,104.6 931.3,103.4 927.9,102.2 924.4,101.0 920.9,99.8 917.4,98.7 914.0,97.5 910.5,96.4 907.0,95.3 903.5,94.2 900.1,93.1 896.6,92.0 893.1,91.0 889.6,89.9 886.2,88.9 882.7,87.9 879.2,87.0 875.7,86.0 872.3,85.1 868.8,84.2 865.3,83.4 861.8,82.5 858.4,81.7 854.9,80.9 851.4,80.1 847.9,79.4 844.5,78.7 841.0,78.0 837.5,77.3 834.0,76.7 830.6,76.1 827.1,75.5 823.6,75.0 820.1,74.5 816.7,74.0 813.2,73.5 809.7,73.1 806.2,72.8 802.8,72.4 799.3,72.1 795.8,71.8 792.3,71.6 788.9,71.4 785.4,71.2 781.9,71.1 778.4,71.0 775.0,70.9 771.5,70.9 768.0,71.0 764.6,71.0 761.1,71.1 757.6,71.3 754.1,71.5 750.7,71.7 747.2,71.9 743.7,72.2 740.2,72.5 736.8,72.9 733.3,73.3 729.8,73.7 726.3,74.2 722.9,74.6 719.4,75.2 715.9,75.7 712.4,76.3 709.0,76.9 705.5,77.6 702.0,78.2 698.5,78.9 695.1,79.7 691.6,80.4 688.1,81.2 684.6,82.0 681.2,82.8 677.7,83.7 674.2,84.5 670.7,85.4 667.3,86.4 663.8,87.3 660.3,88.3 656.8,89.3 653.4,90.3 649.9,91.3 646.4,92.4 642.9,93.4 639.5,94.5 636.0,95.6 632.5,96.7 629.0,97.9 625.6,99.0 622.1,100.2 618.6,101.4 615.2,102.6 611.7,103.8 608.2,105.0 604.7,106.3 601.3,107.5 597.8,108.8 594.3,110.0 590.8,111.3 587.4,112.6 583.9,113.9 580.4,115.2 576.9,116.5 573.5,117.9 570.0,119.2 566.5,120.5 563.0,121.9 559.6,123.2 556.1,124.6 552.6,125.9 549.1,127.3 545.7,128.6 542.2,130.0 538.7,131.4 535.2,132.7 531.8,134.1 528.3,135.5 524.8,136.8 521.3,138.2 517.9,139.6 514.4,140.9 510.9,142.3 507.4,143.6 504.0,145.0 500.5,146.4 497.0,147.7 493.5,149.1 490.1,150.4 486.6,151.8 483.1,153.2 479.6,154.5 476.2,155.9 472.7,157.2 469.2,158.6 465.7,159.9 462.3,161.3 458.8,162.7 455.3,164.0 451.9,165.4 448.4,166.7 444.9,168.1 441.4,169.5 438.0,170.8 434.5,172.2 431.0,173.5 427.5,174.9 424.1,176.3 420.6,177.6 417.1,179.0 413.6,180.4 410.2,181.8 406.7,183.1 403.2,184.5 399.7,185.9 396.3,187.4 392.8,188.8 389.3,190.3 385.8,191.7 382.4,193.2 378.9,194.7 375.4,196.3 371.9,197.8 368.5,199.4 365.0,201.0 361.5,202.7 358.0,204.4 354.6,206.1 351.1,207.8 347.6,209.6 344.1,211.4 340.7,213.3 337.2,215.2 333.7,217.2 330.2,219.2 326.8,221.2 323.3,223.3 319.8,225.5 316.3,227.7 312.9,230.0 309.4,232.3 305.9,234.7 302.5,237.1 299.0,239.6 295.5,242.2 292.0,244.8 288.6,247.5 285.1,250.3 281.6,253.1 278.1,256.0 274.7,259.1 271.2,262.2 267.7,265.6 265.7,267.5 262.3,271.2 258.8,275.0 255.3,279.1 251.8,283.4 248.4,287.9 244.9,292.6 241.4,297.6 237.9,302.7 234.5,308.0 231.0,313.4 227.5,318.9 224.0,324.4 220.6,330.2 217.1,336.1 213.6,342.2 210.1,348.6 206.7,355.3 203.2,362.4 199.7,369.8 196.2,377.6 192.8,385.6 189.3,393.9 185.8,402.4 182.3,411.1 178.9,420.0 175.4,429.0 171.9,438.1 168.4,447.1 165.0,455.8 161.5,463.8 158.0,470.6 154.5,475.7 149.6,480.2 146.1,480.5" fill="#0000cc" shape-rendering="crispEdges"/>
<g shape-rendering="crispEdges" fill="#000">
<rect x="67" y="31" width="1400" height="1"/>
<rect x="67" y="572" width="1400" height="1"/>
<rect x="76" y="31" width="2" height="542"/>
<rect x="1466" y="31" width="1" height="551"/>
<rect x="77" y="573" width="1" height="9"/>
<rect x="111" y="573" width="1" height="4"/>
<rect x="146" y="573" width="1" height="4"/>
<rect x="181" y="573" width="1" height="4"/>
<rect x="216" y="573" width="1" height="4"/>
<rect x="250" y="573" width="1" height="9"/>
<rect x="285" y="573" width="1" height="4"/>
<rect x="320" y="573" width="1" height="4"/>
<rect x="355" y="573" width="1" height="4"/>
<rect x="389" y="573" width="1" height="4"/>
<rect x="424" y="573" width="1" height="9"/>
<rect x="459" y="573" width="1" height="4"/>
<rect x="494" y="573" width="1" height="4"/>
<rect x="528" y="573" width="1" height="4"/>
<rect x="563" y="573" width="1" height="4"/>
<rect x="598" y="573" width="1" height="9"/>
<rect x="632" y="573" width="1" height="4"/>
<rect x="667" y="573" width="1" height="4"/>
<rect x="702" y="573" width="1" height="4"/>
<rect x="737" y="573" width="1" height="4"/>
<rect x="771" y="573" width="1" height="9"/>
<rect x="806" y="573" width="1" height="4"/>
<rect x="841" y="573" width="1" height="4"/>
<rect x="876" y="573" width="1" height="4"/>
<rect x="910" y="573" width="1" height="4"/>
<rect x="945" y="573" width="1" height="9"/>
<rect x="980" y="573" width="1" height="4"/>
<rect x="1015" y="573" width="1" height="4"/>
<rect x="1049" y="573" width="1" height="4"/>
<rect x="1084" y="573" width="1" height="4"/>
<rect x="1119" y="573" width="1" height="9"/>
<rect x="1154" y="573" width="1" height="4"/>
<rect x="1188" y="573" width="1" height="4"/>
<rect x="1223" y="573" width="1" height="4"/>
<rect x="1258" y="573" width="1" height="4"/>
<rect x="1293" y="573" width="1" height="9"/>
<rect x="1327" y="573" width="1" height="4"/>
<rect x="1362" y="573" width="1" height="4"/>
<rect x="1397" y="573" width="1" height="4"/>
<rect x="1432" y="573" width="1" height="4"/>
<rect x="1466" y="573" width="1" height="9"/>
<rect x="67" y="31" width="9" height="1"/>
<rect x="72" y="49" width="4" height="1"/>
<rect x="72" y="67" width="4" height="1"/>
<rect x="72" y="85" width="4" height="1"/>
<rect x="72" y="103" width="4" height="1"/>
<rect x="67" y="121" width="9" height="1"/>
<rect x="72" y="139" width="4" height="1"/>
<rect x="72" y="157" width="4" height="1"/>
<rect x="72" y="175" width="4" height="1"/>
<rect x="72" y="193" width="4" height="1"/>
<rect x="67" y="211" width="9" height="1"/>
<rect x="72" y="229" width="4" height="1"/>
<rect x="72" y="247" width="4" height="1"/>
<rect x="72" y="265" width="4" height="1"/>
<rect x="72" y="283" width="4" height="1"/>
<rect x="67" y="301" width="9" height="1"/>
<rect x="72" y="319" width="4" height="1"/>
<rect x="72" y="337" width="4" height="1"/>
<rect x="72" y="355" width="4" height="1"/>
<rect x="72" y="373" width="4" height="1"/>
<rect x="67" y="391" width="9" height="1"/>
<rect x="72" y="409" width="4" height="1"/>
<rect x="72" y="427" width="4" height="1"/>
<rect x="72" y="445" width="4" height="1"/>
<rect x="72" y="463" width="4" height="1"/>
<rect x="67" y="481" width="9" height="1"/>
<rect x="72" y="500" width="4" height="1"/>
<rect x="72" y="518" width="4" height="1"/>
<rect x="72" y="536" width="4" height="1"/>
<rect x="72" y="554" width="4" height="1"/>
<rect x="67" y="572" width="9" height="1"/>
</g>
<g shape-rendering="crispEdges">
<rect x="771" y="32" width="1" height="6" fill="#666"/><rect x="771" y="40" width="1" height="6" fill="#666"/><rect x="771" y="48" width="1" height="6" fill="#666"/><rect x="771" y="56" width="1" height="6" fill="#666"/><rect x="771" y="64" width="1" height="6" fill="#666"/><rect x="771" y="72" width="1" height="6" fill="#666"/><rect x="771" y="80" width="1" height="6" fill="#666"/><rect x="771" y="88" width="1" height="6" fill="#666"/><rect x="771" y="96" width="1" height="6" fill="#666"/><rect x="771" y="104" width="1" height="6" fill="#666"/><rect x="771" y="112" width="1" height="6" fill="#666"/><rect x="771" y="120" width="1" height="6" fill="#666"/><rect x="771" y="128" width="1" height="6" fill="#666"/><rect x="771" y="136" width="1" height="6" fill="#666"/><rect x="771" y="144" width="1" height="6" fill="#666"/><rect x="771" y="152" width="1" height="6" fill="#666"/><rect x="771" y="160" width="1" height="6" fill="#666"/><rect x="771" y="168" width="1" height="6" fill="#666"/><rect x="771" y="176" width="1" height="6" fill="#666"/><rect x="771" y="184" width="1" height="6" fill="#666"/><rect x="771" y="192" width="1" height="6" fill="#666"/><rect x="771" y="200" width="1" height="6" fill="#666"/><rect x="771" y="208" width="1" height="6" fill="#666"/><rect x="771" y="216" width="1" height="6" fill="#666"/><rect x="771" y="224" width="1" height="6" fill="#666"/><rect x="771" y="232" width="1" height="6" fill="#666"/><rect x="771" y="240" width="1" height="6" fill="#666"/><rect x="771" y="248" width="1" height="6" fill="#666"/><rect x="771" y="256" width="1" height="6" fill="#666"/><rect x="771" y="264" width="1" height="6" fill="#666"/><rect x="771" y="272" width="1" height="6" fill="#666"/><rect x="771" y="280" width="1" height="6" fill="#666"/><rect x="771" y="288" width="1" height="6" fill="#666"/><rect x="771" y="296" width="1" height="6" fill="#666"/><rect x="771" y="304" width="1" height="6" fill="#666"/><rect x="771" y="312" width="1" height="6" fill="#666"/><rect x="771" y="320" width="1" height="6" fill="#666"/><rect x="771" y="328" width="1" height="6" fill="#666"/><rect x="771" y="336" width="1" height="6" fill="#666"/><rect x="771" y="344" width="1" height="6" fill="#666"/><rect x="771" y="352" width="1" height="6" fill="#666"/><rect x="771" y="360" width="1" height="6" fill="#666"/><rect x="771" y="368" width="1" height="6" fill="#666"/><rect x="771" y="376" width="1" height="6" fill="#666"/><rect x="771" y="384" width="1" height="6" fill="#666"/><rect x="771" y="392" width="1" height="6" fill="#666"/><rect x="771" y="400" width="1" height="6" fill="#666"/><rect x="771" y="408" width="1" height="6" fill="#666"/><rect x="771" y="416" width="1" height="6" fill="#666"/><rect x="771" y="424" width="1" height="6" fill="#666"/><rect x="771" y="432" width="1" height="6" fill="#666"/><rect x="771" y="440" width="1" height="6" fill="#666"/><rect x="771" y="448" width="1" height="6" fill="#666"/><rect x="771" y="456" width="1" height="6" fill="#666"/><rect x="771" y="464" width="1" height="6" fill="#666"/><rect x="771" y="472" width="1" height="6" fill="#666"/><rect x="771" y="480" width="1" height="6" fill="#666"/><rect x="771" y="488" width="1" height="6" fill="#666"/><rect x="771" y="496" width="1" height="6" fill="#666"/><rect x="771" y="504" width="1" height="6" fill="#666"/><rect x="771" y="512" width="1" height="6" fill="#666"/><rect x="771" y="520" width="1" height="6" fill="#666"/><rect x="771" y="528" width="1" height="6" fill="#666"/><rect x="771" y="536" width="1" height="6" fill="#666"/><rect x="771" y="544" width="1" height="6" fill="#666"/><rect x="771" y="552" width="1" height="6" fill="#666"/><rect x="771" y="560" width="1" height="6" fill="#666"/><rect x="771" y="568" width="1" height="6" fill="#666"/><rect x="771" y="576" width="1" height="6" fill="#666"/><rect x="771" y="584" width="1" height="6" fill="#666"/><rect x="771" y="592" width="1" height="6" fill="#666"/><rect x="771" y="600" width="1" height="6" fill="#666"/>
</g>
<text x="1273.7" y="618" font-size="15.5" textLength="243.5" lengthAdjust="spacingAndGlyphs" style="fill:#e4e4e4;stroke:none">https://blog.csdn.net/m0_41766094</text>
<text x="1371" y="605" font-size="30.5" font-weight="bold" style='font-family:"Liberation Sans","Noto Sans CJK SC",sans-serif;fill:#e2b6ba;stroke:none'>易迪拓</text>
<text x="1463.5" y="605" font-size="30.5" font-weight="bold" style='font-family:"Liberation Sans","Noto Sans CJK SC",sans-serif;fill:#b4c3dc;stroke:none'>培训</text>
<rect x="1372" y="609.8" width="151" height="1.2" fill="#a8a8a8"/>
<text x="1371" y="627.6" font-size="17" font-weight="bold" textLength="152.5" lengthAdjust="spacingAndGlyphs" style='font-family:"Liberation Serif","Noto Serif CJK SC",serif;fill:#a2a2a2;stroke:none'>射频和天线设计专家</text>
<g font-size="12" letter-spacing="0.12">
<text x="61.6" y="33.9" text-anchor="end">10.00</text>
<text x="61.6" y="123.9" text-anchor="end">0.00</text>
<text x="61.6" y="213.9" text-anchor="end">-10.00</text>
<text x="61.6" y="303.9" text-anchor="end">-20.00</text>
<text x="61.6" y="393.9" text-anchor="end">-30.00</text>
<text x="61.6" y="483.9" text-anchor="end">-40.00</text>
<text x="61.6" y="574.9" text-anchor="end">-50.00</text>
<text x="77.2" y="590" text-anchor="middle">-200.00</text>
<text x="250.2" y="590" text-anchor="middle">-150.00</text>
<text x="424.2" y="590" text-anchor="middle">-100.00</text>
<text x="598.2" y="590" text-anchor="middle">-50.00</text>
<text x="771.2" y="590" text-anchor="middle">0.00</text>
<text x="945.2" y="590" text-anchor="middle">50.00</text>
<text x="1119.2" y="590" text-anchor="middle">100.00</text>
<text x="1293.2" y="590" text-anchor="middle">150.00</text>
<text x="1466.2" y="590" text-anchor="middle">200.00</text>
<text x="772" y="603" text-anchor="middle">Theta [deg]</text>
<text transform="translate(25,304) rotate(-90)" text-anchor="middle" textLength="125" lengthAdjust="spacing">dB(RealizedGainTotal)</text>
</g>
<text x="677.6" y="17.1" font-size="19" textLength="171.8" lengthAdjust="spacing">Realized Gain Plot 1</text>
<text x="1404.3" y="14.3" font-size="13.33" textLength="83.3" lengthAdjust="spacing">HFSSDesign2</text>
<g shape-rendering="crispEdges"><rect x="781" y="76" width="33" height="1" fill="#ff0000"/><rect x="781" y="86" width="33" height="1" fill="#ff0000"/><rect x="813" y="76" width="1" height="11" fill="#ff0000"/><rect x="780" y="77" width="1" height="2" fill="#ff0000"/><rect x="780" y="85" width="1" height="1" fill="#ff0000"/><rect x="779" y="79" width="1" height="1" fill="#ff0000"/><rect x="779" y="84" width="1" height="1" fill="#ff0000"/><rect x="775" y="80" width="5" height="1" fill="#ff0000"/><rect x="775" y="83" width="5" height="1" fill="#ff0000"/><rect x="781" y="77" width="32" height="9" fill="#ffff00"/><rect x="780" y="79" width="1" height="6" fill="#ffff00"/><rect x="779" y="80" width="1" height="4" fill="#ffff00"/><rect x="775" y="81" width="4" height="2" fill="#ffff00"/></g><text x="797.8" y="84.8" font-size="12" text-anchor="middle">4.34</text>
<g shape-rendering="crispEdges"><rect x="781" y="63" width="33" height="1" fill="#0000cc"/><rect x="781" y="73" width="33" height="1" fill="#0000cc"/><rect x="813" y="63" width="1" height="11" fill="#0000cc"/><rect x="780" y="64" width="1" height="2" fill="#0000cc"/><rect x="780" y="72" width="1" height="1" fill="#0000cc"/><rect x="779" y="66" width="1" height="1" fill="#0000cc"/><rect x="779" y="71" width="1" height="1" fill="#0000cc"/><rect x="775" y="67" width="5" height="1" fill="#0000cc"/><rect x="775" y="70" width="5" height="1" fill="#0000cc"/><rect x="781" y="64" width="32" height="9" fill="#ffff00"/><rect x="780" y="66" width="1" height="6" fill="#ffff00"/><rect x="779" y="67" width="1" height="4" fill="#ffff00"/><rect x="775" y="68" width="4" height="2" fill="#ffff00"/></g><text x="797.8" y="71.8" font-size="12" text-anchor="middle">5.73</text>
<path d="M727.5 67.5H760.5L768 72.5L760.5 77.5H727.5Z" fill="#ffff00" stroke="#7b3767" stroke-width="1" shape-rendering="crispEdges"/><text x="745" y="75.9" font-size="12" text-anchor="middle">5.29</text>
<g shape-rendering="crispEdges"><rect x="756" y="607" width="31" height="15" fill="#8a8a8a"/><rect x="757" y="607" width="30" height="14" fill="#fff"/><rect x="758" y="608" width="29" height="13" fill="#ffff00"/></g>
<text x="774" y="618.3" font-size="12" text-anchor="middle">0.00</text>
<g shape-rendering="crispEdges">
<rect x="1357" y="30" width="155" height="124" fill="#000" fill-opacity="0.25"/>
<rect x="1350" y="24" width="156" height="125" fill="#000"/>
<rect x="1351" y="25" width="154" height="123" fill="#fff"/>
<rect x="1351" y="40" width="154" height="1" fill="#a0a0a0"/>
<rect x="1351" y="76" width="154" height="1" fill="#a0a0a0"/>
<rect x="1351" y="112" width="154" height="1" fill="#a0a0a0"/>
<rect x="1355" y="48" width="24" height="2" fill="#ff0000"/>
<rect x="1355" y="84" width="24" height="2" fill="#7b3767"/>
<rect x="1355" y="120" width="24" height="2" fill="#0000cc"/>
</g>
<g font-size="10" style="stroke-width:.08px">
<text x="1428" y="35.8" text-anchor="middle" textLength="52" lengthAdjust="spacingAndGlyphs">Curve Info</text>
<text x="1385.5" y="51.7" textLength="116" lengthAdjust="spacingAndGlyphs">dB(RealizedGainTotal)</text>
<text x="1355" y="61.8" textLength="110" lengthAdjust="spacingAndGlyphs">Setup1 : LastAdaptive</text>
<text x="1355" y="71.9" textLength="139" lengthAdjust="spacingAndGlyphs">Freq='26.5GHz' Phi='90deg'</text>
<text x="1385.5" y="87.7" textLength="116" lengthAdjust="spacingAndGlyphs">dB(RealizedGainTotal)</text>
<text x="1355" y="97.8" textLength="110" lengthAdjust="spacingAndGlyphs">Setup1 : LastAdaptive</text>
<text x="1355" y="107.9" textLength="130" lengthAdjust="spacingAndGlyphs">Freq='28GHz' Phi='90deg'</text>
<text x="1385.5" y="123.7" textLength="116" lengthAdjust="spacingAndGlyphs">dB(RealizedGainTotal)</text>
<text x="1355" y="133.8" textLength="110" lengthAdjust="spacingAndGlyphs">Setup1 : LastAdaptive</text>
<text x="1355" y="143.9" textLength="139" lengthAdjust="spacingAndGlyphs">Freq='29.5GHz' Phi='90deg'</text>
</g>
<g shape-rendering="crispEdges">
<rect x="0" y="0" width="1526" height="1" fill="#a6a6a6"/><rect x="0" y="1" width="1526" height="1" fill="#6e6e6e"/>
<rect x="0" y="0" width="1" height="627" fill="#a6a6a6"/><rect x="1" y="1" width="1" height="625" fill="#6e6e6e"/>
<rect x="2" y="626" width="1524" height="1" fill="#e3e3e3"/>
<rect x="0" y="628" width="1526" height="3" fill="url(#dots)"/>
</g>
<path d="M1458.0 5.0h10.7v1.52h-10.7zM1470.2 5.0h7.6v1.52h-7.6zM1479.3 5.0h3.0v1.52h-3.0zM1487.0 5.0h1.5v1.52h-1.5zM1490.0 5.0h1.5v1.52h-1.5zM1493.1 5.0h6.1v1.52h-6.1zM1500.7 5.0h1.5v1.52h-1.5zM1505.3 5.0h1.5v1.52h-1.5zM1509.8 5.0h10.7v1.52h-10.7zM1458.0 6.5h1.5v1.52h-1.5zM1467.1 6.5h1.5v1.52h-1.5zM1470.2 6.5h1.5v1.52h-1.5zM1473.2 6.5h3.0v1.52h-3.0zM1477.8 6.5h1.5v1.52h-1.5zM1480.9 6.5h1.5v1.52h-1.5zM1488.5 6.5h1.5v1.52h-1.5zM1494.6 6.5h1.5v1.52h-1.5zM1499.2 6.5h1.5v1.52h-1.5zM1502.2 6.5h1.5v1.52h-1.5zM1509.8 6.5h1.5v1.52h-1.5zM1519.0 6.5h1.5v1.52h-1.5zM1458.0 8.0h1.5v1.52h-1.5zM1461.0 8.0h4.6v1.52h-4.6zM1467.1 8.0h1.5v1.52h-1.5zM1476.3 8.0h4.6v1.52h-4.6zM1483.9 8.0h6.1v1.52h-6.1zM1493.1 8.0h6.1v1.52h-6.1zM1509.8 8.0h1.5v1.52h-1.5zM1512.9 8.0h4.6v1.52h-4.6zM1519.0 8.0h1.5v1.52h-1.5zM1458.0 9.6h1.5v1.52h-1.5zM1461.0 9.6h4.6v1.52h-4.6zM1467.1 9.6h1.5v1.52h-1.5zM1470.2 9.6h6.1v1.52h-6.1zM1479.3 9.6h7.6v1.52h-7.6zM1490.0 9.6h1.5v1.52h-1.5zM1493.1 9.6h6.1v1.52h-6.1zM1500.7 9.6h3.0v1.52h-3.0zM1506.8 9.6h1.5v1.52h-1.5zM1509.8 9.6h1.5v1.52h-1.5zM1512.9 9.6h4.6v1.52h-4.6zM1519.0 9.6h1.5v1.52h-1.5zM1458.0 11.1h1.5v1.52h-1.5zM1461.0 11.1h4.6v1.52h-4.6zM1467.1 11.1h1.5v1.52h-1.5zM1476.3 11.1h1.5v1.52h-1.5zM1479.3 11.1h7.6v1.52h-7.6zM1490.0 11.1h1.5v1.52h-1.5zM1496.1 11.1h7.6v1.52h-7.6zM1509.8 11.1h1.5v1.52h-1.5zM1512.9 11.1h4.6v1.52h-4.6zM1519.0 11.1h1.5v1.52h-1.5zM1458.0 12.6h1.5v1.52h-1.5zM1467.1 12.6h1.5v1.52h-1.5zM1473.2 12.6h4.6v1.52h-4.6zM1480.9 12.6h1.5v1.52h-1.5zM1487.0 12.6h1.5v1.52h-1.5zM1490.0 12.6h3.0v1.52h-3.0zM1499.2 12.6h1.5v1.52h-1.5zM1503.7 12.6h4.6v1.52h-4.6zM1509.8 12.6h1.5v1.52h-1.5zM1519.0 12.6h1.5v1.52h-1.5zM1458.0 14.1h10.7v1.52h-10.7zM1470.2 14.1h1.5v1.52h-1.5zM1473.2 14.1h1.5v1.52h-1.5zM1476.3 14.1h1.5v1.52h-1.5zM1479.3 14.1h1.5v1.52h-1.5zM1482.4 14.1h1.5v1.52h-1.5zM1485.4 14.1h1.5v1.52h-1.5zM1488.5 14.1h1.5v1.52h-1.5zM1491.5 14.1h1.5v1.52h-1.5zM1494.6 14.1h1.5v1.52h-1.5zM1497.6 14.1h1.5v1.52h-1.5zM1500.7 14.1h1.5v1.52h-1.5zM1503.7 14.1h1.5v1.52h-1.5zM1506.8 14.1h1.5v1.52h-1.5zM1509.8 14.1h10.7v1.52h-10.7zM1470.2 15.7h3.0v1.52h-3.0zM1477.8 15.7h1.5v1.52h-1.5zM1482.4 15.7h1.5v1.52h-1.5zM1487.0 15.7h1.5v1.52h-1.5zM1490.0 15.7h1.5v1.52h-1.5zM1496.1 15.7h3.0v1.52h-3.0zM1500.7 15.7h4.6v1.52h-4.6zM1506.8 15.7h1.5v1.52h-1.5zM1461.0 17.2h4.6v1.52h-4.6zM1467.1 17.2h4.6v1.52h-4.6zM1474.8 17.2h3.0v1.52h-3.0zM1482.4 17.2h3.0v1.52h-3.0zM1487.0 17.2h3.0v1.52h-3.0zM1494.6 17.2h1.5v1.52h-1.5zM1497.6 17.2h1.5v1.52h-1.5zM1500.7 17.2h3.0v1.52h-3.0zM1506.8 17.2h3.0v1.52h-3.0zM1511.4 17.2h9.1v1.52h-9.1zM1458.0 18.7h1.5v1.52h-1.5zM1461.0 18.7h1.5v1.52h-1.5zM1464.1 18.7h3.0v1.52h-3.0zM1468.7 18.7h3.0v1.52h-3.0zM1474.8 18.7h3.0v1.52h-3.0zM1479.3 18.7h1.5v1.52h-1.5zM1482.4 18.7h1.5v1.52h-1.5zM1487.0 18.7h1.5v1.52h-1.5zM1493.1 18.7h1.5v1.52h-1.5zM1499.2 18.7h7.6v1.52h-7.6zM1508.3 18.7h4.6v1.52h-4.6zM1517.5 18.7h3.0v1.52h-3.0zM1458.0 20.2h7.6v1.52h-7.6zM1467.1 20.2h1.5v1.52h-1.5zM1470.2 20.2h1.5v1.52h-1.5zM1473.2 20.2h7.6v1.52h-7.6zM1482.4 20.2h1.5v1.52h-1.5zM1485.4 20.2h12.2v1.52h-12.2zM1506.8 20.2h3.0v1.52h-3.0zM1511.4 20.2h1.5v1.52h-1.5zM1515.9 20.2h1.5v1.52h-1.5zM1462.6 21.8h1.5v1.52h-1.5zM1477.8 21.8h7.6v1.52h-7.6zM1494.6 21.8h1.5v1.52h-1.5zM1503.7 21.8h1.5v1.52h-1.5zM1506.8 21.8h4.6v1.52h-4.6zM1512.9 21.8h1.5v1.52h-1.5zM1519.0 21.8h1.5v1.52h-1.5zM1458.0 23.3h1.5v1.52h-1.5zM1465.6 23.3h4.6v1.52h-4.6zM1471.7 23.3h1.5v1.52h-1.5zM1474.8 23.3h4.6v1.52h-4.6zM1483.9 23.3h1.5v1.52h-1.5zM1487.0 23.3h4.6v1.52h-4.6zM1493.1 23.3h1.5v1.52h-1.5zM1497.6 23.3h3.0v1.52h-3.0zM1503.7 23.3h4.6v1.52h-4.6zM1509.8 23.3h1.5v1.52h-1.5zM1512.9 23.3h1.5v1.52h-1.5zM1517.5 23.3h1.5v1.52h-1.5zM1462.6 24.8h1.5v1.52h-1.5zM1468.7 24.8h1.5v1.52h-1.5zM1471.7 24.8h7.6v1.52h-7.6zM1480.9 24.8h1.5v1.52h-1.5zM1485.4 24.8h1.5v1.52h-1.5zM1491.5 24.8h4.6v1.52h-4.6zM1499.2 24.8h7.6v1.52h-7.6zM1508.3 24.8h1.5v1.52h-1.5zM1511.4 24.8h3.0v1.52h-3.0zM1515.9 24.8h3.0v1.52h-3.0zM1467.1 26.3h3.0v1.52h-3.0zM1471.7 26.3h1.5v1.52h-1.5zM1476.3 26.3h3.0v1.52h-3.0zM1480.9 26.3h6.1v1.52h-6.1zM1490.0 26.3h1.5v1.52h-1.5zM1493.1 26.3h1.5v1.52h-1.5zM1496.1 26.3h6.1v1.52h-6.1zM1505.3 26.3h1.5v1.52h-1.5zM1509.8 26.3h10.7v1.52h-10.7zM1458.0 27.9h1.5v1.52h-1.5zM1464.1 27.9h3.0v1.52h-3.0zM1468.7 27.9h6.1v1.52h-6.1zM1476.3 27.9h1.5v1.52h-1.5zM1500.7 27.9h1.5v1.52h-1.5zM1503.7 27.9h3.0v1.52h-3.0zM1512.9 27.9h4.6v1.52h-4.6zM1464.1 29.4h1.5v1.52h-1.5zM1467.1 29.4h1.5v1.52h-1.5zM1470.2 29.4h1.5v1.52h-1.5zM1474.8 29.4h4.6v1.52h-4.6zM1502.2 29.4h4.6v1.52h-4.6zM1509.8 29.4h3.0v1.52h-3.0zM1515.9 29.4h3.0v1.52h-3.0zM1459.5 30.9h6.1v1.52h-6.1zM1473.2 30.9h1.5v1.52h-1.5zM1476.3 30.9h1.5v1.52h-1.5zM1499.2 30.9h1.5v1.52h-1.5zM1502.2 30.9h6.1v1.52h-6.1zM1515.9 30.9h3.0v1.52h-3.0zM1459.5 32.4h1.5v1.52h-1.5zM1462.6 32.4h10.7v1.52h-10.7zM1474.8 32.4h1.5v1.52h-1.5zM1477.8 32.4h1.5v1.52h-1.5zM1502.2 32.4h4.6v1.52h-4.6zM1508.3 32.4h1.5v1.52h-1.5zM1512.9 32.4h3.0v1.52h-3.0zM1519.0 32.4h1.5v1.52h-1.5zM1459.5 34.0h4.6v1.52h-4.6zM1470.2 34.0h4.6v1.52h-4.6zM1477.8 34.0h1.5v1.52h-1.5zM1500.7 34.0h3.0v1.52h-3.0zM1505.3 34.0h4.6v1.52h-4.6zM1511.4 34.0h1.5v1.52h-1.5zM1517.5 34.0h3.0v1.52h-3.0zM1458.0 35.5h1.5v1.52h-1.5zM1462.6 35.5h6.1v1.52h-6.1zM1474.8 35.5h1.5v1.52h-1.5zM1477.8 35.5h1.5v1.52h-1.5zM1499.2 35.5h1.5v1.52h-1.5zM1505.3 35.5h3.0v1.52h-3.0zM1512.9 35.5h6.1v1.52h-6.1zM1461.0 37.0h1.5v1.52h-1.5zM1464.1 37.0h3.0v1.52h-3.0zM1470.2 37.0h1.5v1.52h-1.5zM1474.8 37.0h4.6v1.52h-4.6zM1499.2 37.0h4.6v1.52h-4.6zM1506.8 37.0h3.0v1.52h-3.0zM1511.4 37.0h4.6v1.52h-4.6zM1517.5 37.0h1.5v1.52h-1.5zM1458.0 38.5h3.0v1.52h-3.0zM1464.1 38.5h7.6v1.52h-7.6zM1473.2 38.5h1.5v1.52h-1.5zM1476.3 38.5h1.5v1.52h-1.5zM1500.7 38.5h1.5v1.52h-1.5zM1506.8 38.5h3.0v1.52h-3.0zM1514.4 38.5h1.5v1.52h-1.5zM1517.5 38.5h1.5v1.52h-1.5zM1461.0 40.1h1.5v1.52h-1.5zM1464.1 40.1h3.0v1.52h-3.0zM1470.2 40.1h4.6v1.52h-4.6zM1476.3 40.1h3.0v1.52h-3.0zM1499.2 40.1h1.5v1.52h-1.5zM1502.2 40.1h1.5v1.52h-1.5zM1505.3 40.1h4.6v1.52h-4.6zM1512.9 40.1h1.5v1.52h-1.5zM1517.5 40.1h3.0v1.52h-3.0zM1458.0 41.6h12.2v1.52h-12.2zM1471.7 41.6h1.5v1.52h-1.5zM1477.8 41.6h1.5v1.52h-1.5zM1499.2 41.6h1.5v1.52h-1.5zM1503.7 41.6h3.0v1.52h-3.0zM1508.3 41.6h1.5v1.52h-1.5zM1511.4 41.6h1.5v1.52h-1.5zM1514.4 41.6h1.5v1.52h-1.5zM1519.0 41.6h1.5v1.52h-1.5zM1458.0 43.1h1.5v1.52h-1.5zM1461.0 43.1h6.1v1.52h-6.1zM1471.7 43.1h1.5v1.52h-1.5zM1474.8 43.1h1.5v1.52h-1.5zM1499.2 43.1h1.5v1.52h-1.5zM1502.2 43.1h3.0v1.52h-3.0zM1506.8 43.1h1.5v1.52h-1.5zM1509.8 43.1h1.5v1.52h-1.5zM1517.5 43.1h3.0v1.52h-3.0zM1458.0 44.6h3.0v1.52h-3.0zM1462.6 44.6h1.5v1.52h-1.5zM1467.1 44.6h3.0v1.52h-3.0zM1471.7 44.6h7.6v1.52h-7.6zM1500.7 44.6h4.6v1.52h-4.6zM1508.3 44.6h1.5v1.52h-1.5zM1511.4 44.6h1.5v1.52h-1.5zM1515.9 44.6h1.5v1.52h-1.5zM1519.0 44.6h1.5v1.52h-1.5zM1459.5 46.2h4.6v1.52h-4.6zM1465.6 46.2h1.5v1.52h-1.5zM1470.2 46.2h3.0v1.52h-3.0zM1479.3 46.2h6.1v1.52h-6.1zM1490.0 46.2h1.5v1.52h-1.5zM1494.6 46.2h1.5v1.52h-1.5zM1497.6 46.2h9.1v1.52h-9.1zM1512.9 46.2h1.5v1.52h-1.5zM1515.9 46.2h1.5v1.52h-1.5zM1458.0 47.7h1.5v1.52h-1.5zM1462.6 47.7h1.5v1.52h-1.5zM1465.6 47.7h4.6v1.52h-4.6zM1474.8 47.7h1.5v1.52h-1.5zM1477.8 47.7h3.0v1.52h-3.0zM1488.5 47.7h1.5v1.52h-1.5zM1494.6 47.7h1.5v1.52h-1.5zM1499.2 47.7h3.0v1.52h-3.0zM1503.7 47.7h1.5v1.52h-1.5zM1506.8 47.7h4.6v1.52h-4.6zM1512.9 47.7h6.1v1.52h-6.1zM1462.6 49.2h1.5v1.52h-1.5zM1465.6 49.2h1.5v1.52h-1.5zM1471.7 49.2h1.5v1.52h-1.5zM1477.8 49.2h6.1v1.52h-6.1zM1491.5 49.2h4.6v1.52h-4.6zM1497.6 49.2h9.1v1.52h-9.1zM1508.3 49.2h3.0v1.52h-3.0zM1517.5 49.2h3.0v1.52h-3.0zM1458.0 50.7h1.5v1.52h-1.5zM1461.0 50.7h1.5v1.52h-1.5zM1465.6 50.7h4.6v1.52h-4.6zM1471.7 50.7h4.6v1.52h-4.6zM1479.3 50.7h1.5v1.52h-1.5zM1485.4 50.7h1.5v1.52h-1.5zM1488.5 50.7h1.5v1.52h-1.5zM1491.5 50.7h1.5v1.52h-1.5zM1494.6 50.7h3.0v1.52h-3.0zM1500.7 50.7h1.5v1.52h-1.5zM1503.7 50.7h1.5v1.52h-1.5zM1511.4 50.7h4.6v1.52h-4.6zM1517.5 50.7h1.5v1.52h-1.5zM1458.0 52.3h4.6v1.52h-4.6zM1465.6 52.3h1.5v1.52h-1.5zM1468.7 52.3h3.0v1.52h-3.0zM1477.8 52.3h4.6v1.52h-4.6zM1487.0 52.3h3.0v1.52h-3.0zM1493.1 52.3h3.0v1.52h-3.0zM1497.6 52.3h4.6v1.52h-4.6zM1505.3 52.3h6.1v1.52h-6.1zM1512.9 52.3h4.6v1.52h-4.6zM1458.0 53.8h1.5v1.52h-1.5zM1461.0 53.8h3.0v1.52h-3.0zM1467.1 53.8h4.6v1.52h-4.6zM1473.2 53.8h7.6v1.52h-7.6zM1487.0 53.8h3.0v1.52h-3.0zM1491.5 53.8h1.5v1.52h-1.5zM1496.1 53.8h1.5v1.52h-1.5zM1500.7 53.8h3.0v1.52h-3.0zM1506.8 53.8h10.7v1.52h-10.7zM1519.0 53.8h1.5v1.52h-1.5zM1470.2 55.3h1.5v1.52h-1.5zM1474.8 55.3h1.5v1.52h-1.5zM1479.3 55.3h1.5v1.52h-1.5zM1483.9 55.3h1.5v1.52h-1.5zM1487.0 55.3h1.5v1.52h-1.5zM1493.1 55.3h1.5v1.52h-1.5zM1505.3 55.3h3.0v1.52h-3.0zM1512.9 55.3h3.0v1.52h-3.0zM1517.5 55.3h3.0v1.52h-3.0zM1458.0 56.8h10.7v1.52h-10.7zM1470.2 56.8h1.5v1.52h-1.5zM1476.3 56.8h1.5v1.52h-1.5zM1479.3 56.8h4.6v1.52h-4.6zM1488.5 56.8h1.5v1.52h-1.5zM1491.5 56.8h1.5v1.52h-1.5zM1494.6 56.8h1.5v1.52h-1.5zM1500.7 56.8h3.0v1.52h-3.0zM1505.3 56.8h3.0v1.52h-3.0zM1509.8 56.8h1.5v1.52h-1.5zM1512.9 56.8h7.6v1.52h-7.6zM1458.0 58.4h1.5v1.52h-1.5zM1467.1 58.4h1.5v1.52h-1.5zM1470.2 58.4h1.5v1.52h-1.5zM1474.8 58.4h1.5v1.52h-1.5zM1480.9 58.4h1.5v1.52h-1.5zM1485.4 58.4h3.0v1.52h-3.0zM1491.5 58.4h6.1v1.52h-6.1zM1499.2 58.4h3.0v1.52h-3.0zM1505.3 58.4h3.0v1.52h-3.0zM1512.9 58.4h1.5v1.52h-1.5zM1517.5 58.4h1.5v1.52h-1.5zM1458.0 59.9h1.5v1.52h-1.5zM1461.0 59.9h4.6v1.52h-4.6zM1467.1 59.9h1.5v1.52h-1.5zM1471.7 59.9h4.6v1.52h-4.6zM1482.4 59.9h1.5v1.52h-1.5zM1485.4 59.9h1.5v1.52h-1.5zM1491.5 59.9h3.0v1.52h-3.0zM1496.1 59.9h1.5v1.52h-1.5zM1500.7 59.9h1.5v1.52h-1.5zM1506.8 59.9h9.1v1.52h-9.1zM1519.0 59.9h1.5v1.52h-1.5zM1458.0 61.4h1.5v1.52h-1.5zM1461.0 61.4h4.6v1.52h-4.6zM1467.1 61.4h1.5v1.52h-1.5zM1473.2 61.4h1.5v1.52h-1.5zM1476.3 61.4h1.5v1.52h-1.5zM1479.3 61.4h1.5v1.52h-1.5zM1487.0 61.4h4.6v1.52h-4.6zM1496.1 61.4h1.5v1.52h-1.5zM1502.2 61.4h6.1v1.52h-6.1zM1458.0 62.9h1.5v1.52h-1.5zM1461.0 62.9h4.6v1.52h-4.6zM1467.1 62.9h1.5v1.52h-1.5zM1470.2 62.9h3.0v1.52h-3.0zM1477.8 62.9h1.5v1.52h-1.5zM1483.9 62.9h7.6v1.52h-7.6zM1494.6 62.9h1.5v1.52h-1.5zM1497.6 62.9h3.0v1.52h-3.0zM1505.3 62.9h4.6v1.52h-4.6zM1514.4 62.9h4.6v1.52h-4.6zM1458.0 64.5h1.5v1.52h-1.5zM1467.1 64.5h1.5v1.52h-1.5zM1471.7 64.5h3.0v1.52h-3.0zM1476.3 64.5h1.5v1.52h-1.5zM1479.3 64.5h3.0v1.52h-3.0zM1488.5 64.5h1.5v1.52h-1.5zM1493.1 64.5h1.5v1.52h-1.5zM1496.1 64.5h1.5v1.52h-1.5zM1500.7 64.5h3.0v1.52h-3.0zM1506.8 64.5h3.0v1.52h-3.0zM1511.4 64.5h1.5v1.52h-1.5zM1515.9 64.5h3.0v1.52h-3.0zM1458.0 66.0h10.7v1.52h-10.7zM1470.2 66.0h1.5v1.52h-1.5zM1477.8 66.0h3.0v1.52h-3.0zM1485.4 66.0h1.5v1.52h-1.5zM1493.1 66.0h3.0v1.52h-3.0zM1497.6 66.0h1.5v1.52h-1.5zM1505.3 66.0h6.1v1.52h-6.1zM1515.9 66.0h1.5v1.52h-1.5z" fill="#444" fill-opacity="0.44"/>
<ellipse cx="1486.5" cy="34.6" rx="5.6" ry="5.0" fill="#e9edb4"/>
<ellipse cx="1493.5" cy="38.6" rx="4.6" ry="3.8" fill="#f6f6f2"/>
<circle cx="1484.6" cy="33.2" r="0.8" fill="#b9b9b0"/><circle cx="1488.8" cy="33.2" r="0.8" fill="#b9b9b0"/>
<text x="1458" y="82.6" font-size="16" style='font-family:"Liberation Sans","Noto Sans CJK SC",sans-serif;fill:#555;fill-opacity:0.5;stroke:none'>微信联系</text>
<g shape-rendering="crispEdges"><rect x="1509" y="5" width="1" height="6" fill="#666"/><rect x="1509" y="8" width="1" height="1" fill="#f00"/><rect x="1507" y="9" width="1" height="1" fill="#f00"/><rect x="1510" y="9" width="1" height="1" fill="#f00"/><rect x="1506" y="11" width="1" height="2" fill="#f00"/><rect x="1508" y="11" width="1" height="1" fill="#f00"/><rect x="1510" y="10" width="1" height="1" fill="#f00"/><rect x="1511" y="12" width="1" height="1" fill="#f00"/><rect x="1511" y="9" width="1" height="1" fill="#777"/><rect x="1512" y="10" width="1" height="2" fill="#777"/><rect x="1513" y="12" width="1" height="1" fill="#777"/></g>
</svg></body></html>
